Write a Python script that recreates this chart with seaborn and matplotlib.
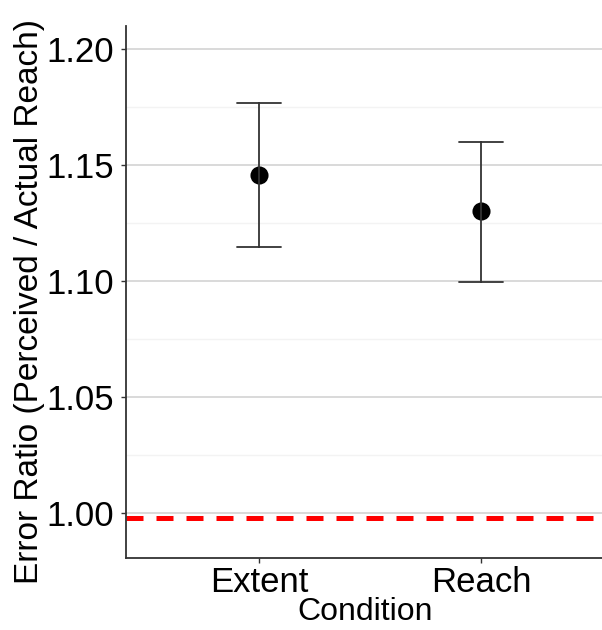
import matplotlib
matplotlib.use("Agg")
import matplotlib.pyplot as plt
import seaborn as sns
import pandas as pd
import numpy as np

conditions = ["Extent", "Reach"]
means = [1.1456, 1.1301]
lower = [1.1146, 1.0998]
upper = [1.1768, 1.1601]
reference_line = 0.998
y_ticks = [1.00, 1.05, 1.10, 1.15, 1.20]
y_tick_labels = ["1.00", "1.05", "1.10", "1.15", "1.20"]

sns.set_theme(style="white")
plt.rcParams["font.family"] = ["Liberation Sans", "DejaVu Sans"]

# long table: lower / mean / upper for each condition; median gives mean, 100% PI gives the bars
rows = []
for c, lo, m, up in zip(conditions, lower, means, upper):
    for v in (lo, m, up):
        rows.append({"Condition": c, "value": v})
df = pd.DataFrame(rows)

fig = plt.figure(figsize=(6.02, 6.30), dpi=100)
ax = fig.add_axes([126/602, 1-558/630, (614-126)/602, (558-26)/630])

ax.axhline(reference_line, color="#ff0000", lw=3.6, ls=(0, (3.4, 2.6)),
           dash_capstyle="butt", zorder=1)

sns.pointplot(data=df, x="Condition", y="value", order=conditions,
              estimator="median", errorbar=("pi", 100), capsize=0.2,
              color="black", linestyle="none", markers="o", markersize=11,
              err_kws={"color": "#333333", "linewidth": 1.3}, ax=ax, zorder=3)

ax.set_xlim(-0.6, 1.6)
ax.set_ylim(0.9808, 1.2099)
ax.set_yticks(y_ticks)
ax.set_yticklabels(y_tick_labels)
ax.set_yticks([1.025, 1.075, 1.125, 1.175], minor=True)
ax.grid(False)
ax.yaxis.grid(True, which="major", color="#cfcfcf", lw=1.1, zorder=0)
ax.yaxis.grid(True, which="minor", color="#f3f3f3", lw=1.0, zorder=0)
ax.set_axisbelow(True)

for s in ["top", "right"]:
    ax.spines[s].set_visible(False)
for s in ["left", "bottom"]:
    ax.spines[s].set_color("#333333")
    ax.spines[s].set_linewidth(1.3)

ax.tick_params(axis="both", which="major", length=3.6, width=1.0, color="#333333",
               labelsize=25, labelcolor="black", left=True, bottom=True)
ax.tick_params(axis="y", which="major", pad=5)
ax.tick_params(axis="x", which="major", pad=2)
ax.tick_params(axis="y", which="minor", length=0)

ax.set_xlabel("Condition", fontsize=23, color="black")
ax.set_ylabel("Error Ratio (Perceived / Actual Reach)", fontsize=24, color="black")
ax.xaxis.set_label_coords(0.49, -0.0735)
ax.yaxis.set_label_coords(-0.166, 0.482)

fig.savefig("out.png", dpi=100)
